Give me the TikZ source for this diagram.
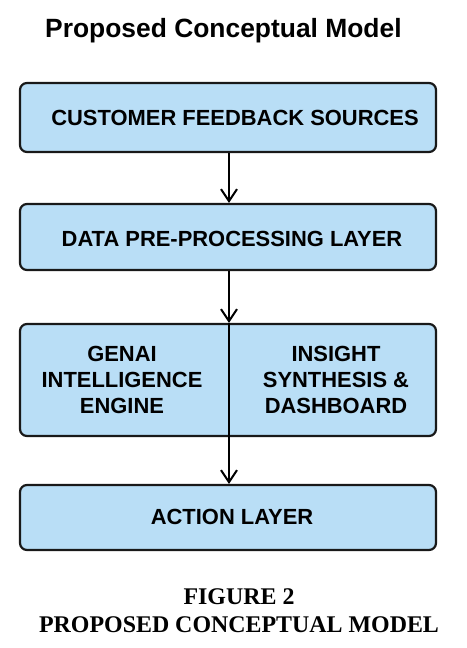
\documentclass[tikz,border=0pt]{standalone}
\usepackage{fontspec}
\usepackage{xcolor}
\usetikzlibrary{arrows.meta, positioning}
\setmainfont{Liberation Serif}
\setsansfont{Liberation Sans}
\definecolor{boxbg}{RGB}{185, 222, 246}
\definecolor{boxline}{RGB}{25, 25, 25}
\tikzset{
    layer/.style={rectangle, rounded corners=7bp, draw=boxline, fill=boxbg, line width=2.2bp, minimum width=416bp, inner sep=0pt},
    layer_text/.style={font=\sffamily\bfseries\fontsize{22}{26.5}\selectfont, align=center, text=black},
    arrow/.style={-{Straight Barb[length=12bp, width=16bp, line width=2bp]}, line width=2bp, color=black}
}
\begin{document}
\begin{tikzpicture}[x=1bp, y=-1bp]
    \useasboundingbox (0,0) rectangle (467,648);

    \node (title) [font=\sffamily\bfseries\fontsize{26.5}{30}\selectfont, anchor=west, inner sep=0pt] at (45,31) {Proposed Conceptual Model};

    % Layers
    \node (sources) [layer, minimum height=69bp] at (228,117.5) {};
    \node (prep)    [layer, minimum height=66bp] at (228,237) {};
    \node (engine)  [layer, minimum height=112bp] at (228,380) {};
    \node (action)  [layer, minimum height=65bp] at (228,517.5) {};

    % Texts
    \node (sourcestext) [layer_text] at (235,118) {CUSTOMER FEEDBACK SOURCES};
    \node (preptext)    [layer_text] at (232,239) {DATA PRE-PROCESSING LAYER};
    \node (genai)       [layer_text] at (122,380) {GENAI\\INTELLIGENCE\\ENGINE};
    \node (insight)     [layer_text] at (336,380) {INSIGHT\\SYNTHESIS \&\\DASHBOARD};
    \node (actiontext)  [layer_text] at (232,517) {ACTION LAYER};

    % Arrows
    \draw [arrow] (sources.south) ++(1,0) coordinate (s1) -- (s1 |- prep.north);
    \draw [arrow] (prep.south) ++(1,0) coordinate (s2) -- (s2 |- engine.north);
    \draw [line width=2bp] (engine.north) ++(1,0) coordinate (s3) -- (s3 |- engine.south);
    \draw [arrow] (engine.south) ++(1,0) coordinate (s4) -- (s4 |- action.north);

    % Caption
    \node (fig)     [font=\rmfamily\bfseries\fontsize{24}{28}\selectfont] at (239,597) {FIGURE 2};
    \node (figname) [font=\rmfamily\bfseries\fontsize{24}{28}\selectfont] at (239,625) {PROPOSED CONCEPTUAL MODEL};

\end{tikzpicture}
\end{document}
